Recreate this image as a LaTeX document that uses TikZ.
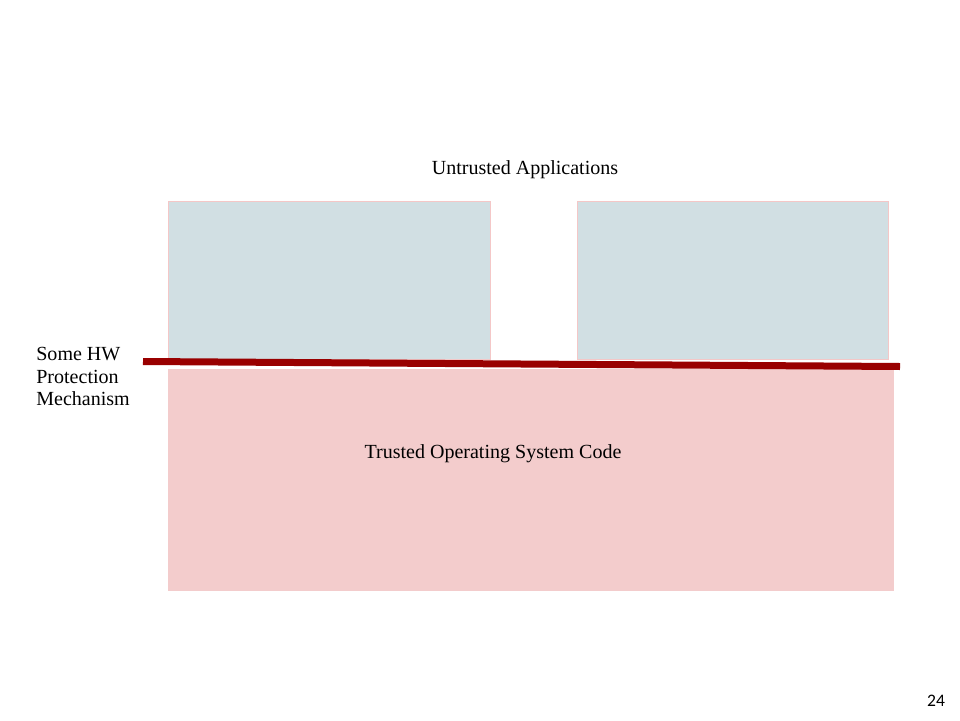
\documentclass[tikz,border=0pt]{standalone}
\usepackage{fontspec}
\setmainfont{Liberation Serif}
\newfontfamily\pagefont{Carlito}
\definecolor{appblue}{HTML}{D1DFE3}
\definecolor{ospink}{HTML}{F3CCCC}
\definecolor{edgepink}{HTML}{F4C7C7}
\definecolor{hwred}{HTML}{990000}
\tikzset{
    label text/.style={font=\fontsize{11.4}{12.8}\selectfont, inner sep=0pt},
}
\begin{document}
\begin{tikzpicture}[x=0.02cm, y=-0.02cm]
        % Page frame
        \useasboundingbox[fill=white] (0,0) rectangle (960,720);

        % Untrusted application boxes
        \filldraw[fill=appblue, draw=edgepink, thin] (168,201) rectangle (490,359);
        \filldraw[fill=appblue, draw=edgepink, thin] (577,201) rectangle (888,359);

        % Trusted OS box
        \fill[ospink] (168,369) rectangle (894,591);

        % HW protection line
        \draw[hwred, line width=0.14cm] (143,361.5) -- (900,366.5);

        % Labels
        \node[label text] (untrusted) at (525,169.5) {Untrusted Applications};
        \node[label text] (trusted) at (493,453.5) {Trusted Operating System Code};
        \node[label text, anchor=north west, align=left] (hwlabel) at (36,347)
            {Some HW\\Protection\\Mechanism};

        % Page number
        \node[font=\pagefont\fontsize{10}{12}\selectfont] (pagenum) at (936,701) {24};
    \end{tikzpicture}
\end{document}
